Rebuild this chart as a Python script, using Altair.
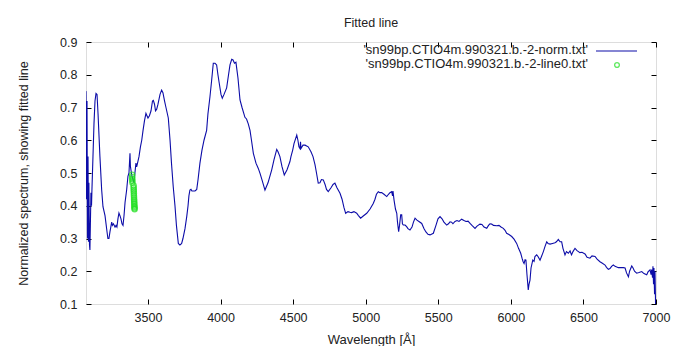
import altair as alt
import pandas as pd

# Normalized spectrum (wavelength in Angstrom, normalized flux)
wavelength = [3073, 3076, 3080, 3083, 3087, 3090, 3093, 3097, 3100, 3107, 3111, 3114, 3121, 3128, 3135, 3142,
              3149, 3156, 3169, 3181, 3190, 3204, 3218, 3224, 3231, 3238, 3250, 3255, 3262, 3273, 3280, 3286,
              3293, 3300, 3307, 3314, 3321, 3328, 3335, 3342, 3353, 3362, 3369, 3376, 3379, 3386, 3390, 3397,
              3404, 3410, 3417, 3422, 3428, 3438, 3448, 3457, 3466, 3476, 3486, 3493, 3500, 3510, 3521, 3531,
              3537, 3545, 3552, 3560, 3569, 3583, 3594, 3603, 3614, 3624, 3640, 3652, 3662, 3674, 3686, 3696,
              3709, 3720, 3732, 3741, 3755, 3767, 3776, 3782, 3789, 3796, 3803, 3812, 3824, 3836, 3845, 3858,
              3872, 3886, 3904, 3913, 3927, 3938, 3950, 3962, 3973, 3982, 3991, 4003, 4012, 4024, 4042, 4055,
              4065, 4077, 4086, 4096, 4106, 4120, 4134, 4148, 4168, 4179, 4191, 4203, 4213, 4226, 4244, 4260,
              4272, 4285, 4306, 4327, 4352, 4368, 4387, 4396, 4409, 4423, 4439, 4458, 4478, 4485, 4497, 4506,
              4525, 4533, 4540, 4547, 4551, 4554, 4568, 4582, 4604, 4623, 4637, 4651, 4661, 4673, 4685, 4695,
              4708, 4720, 4730, 4742, 4761, 4775, 4788, 4802, 4823, 4837, 4850, 4862, 4878, 4892, 4903, 4919,
              4938, 4950, 4965, 4981, 5007, 5030, 5052, 5064, 5074, 5087, 5098, 5110, 5126, 5145, 5157, 5167,
              5179, 5185, 5188, 5195, 5205, 5214, 5219, 5227, 5233, 5241, 5248, 5253, 5259, 5271, 5282, 5291,
              5305, 5319, 5329, 5340, 5353, 5367, 5386, 5402, 5415, 5429, 5443, 5466, 5484, 5498, 5512, 5526,
              5539, 5558, 5570, 5581, 5592, 5601, 5615, 5629, 5643, 5661, 5677, 5691, 5705, 5719, 5732, 5753,
              5767, 5787, 5801, 5815, 5834, 5846, 5856, 5868, 5880, 5903, 5918, 5932, 5948, 5960, 5971, 5987,
              6006, 6022, 6040, 6053, 6068, 6077, 6084, 6091, 6098, 6104, 6111, 6120, 6125, 6132, 6139, 6151,
              6160, 6166, 6178, 6187, 6201, 6211, 6224, 6235, 6247, 6256, 6270, 6287, 6304, 6314, 6327, 6339,
              6350, 6359, 6373, 6383, 6396, 6408, 6418, 6428, 6442, 6456, 6476, 6490, 6511, 6525, 6545, 6559,
              6580, 6594, 6614, 6628, 6649, 6659, 6672, 6683, 6694, 6706, 6718, 6741, 6759, 6775, 6787, 6797,
              6810, 6818, 6833, 6842, 6852, 6867, 6883, 6902, 6917, 6936, 6945, 6959, 6966, 6970, 6976, 6979,
              6983, 6986, 6990, 6993, 6997]
flux = [0.75, 0.42, 0.72, 0.30, 0.55, 0.29, 0.47, 0.28, 0.265, 0.44, 0.40, 0.45, 0.55, 0.65, 0.72, 0.743,
        0.74, 0.68, 0.55, 0.448, 0.397, 0.37, 0.32, 0.30, 0.30, 0.32, 0.35, 0.34, 0.345, 0.335, 0.34, 0.335,
        0.36, 0.378, 0.37, 0.36, 0.345, 0.34, 0.37, 0.41, 0.448, 0.49, 0.50, 0.56, 0.52, 0.50, 0.49, 0.48,
        0.47, 0.50, 0.53, 0.519, 0.53, 0.55, 0.58, 0.60, 0.63, 0.66, 0.682, 0.675, 0.668, 0.675, 0.69, 0.72,
        0.722, 0.71, 0.69, 0.695, 0.71, 0.74, 0.753, 0.745, 0.72, 0.70, 0.668, 0.60, 0.53, 0.458, 0.40, 0.34,
        0.285, 0.28, 0.285, 0.30, 0.33, 0.367, 0.40, 0.43, 0.448, 0.45, 0.445, 0.445, 0.445, 0.45, 0.48, 0.53,
        0.57, 0.60, 0.63, 0.68, 0.733, 0.78, 0.835, 0.835, 0.83, 0.80, 0.774, 0.74, 0.728, 0.74, 0.76, 0.80,
        0.83, 0.847, 0.845, 0.835, 0.838, 0.79, 0.723, 0.70, 0.67, 0.665, 0.65, 0.63, 0.60, 0.56, 0.53, 0.514,
        0.499, 0.48, 0.448, 0.47, 0.509, 0.54, 0.572, 0.565, 0.55, 0.52, 0.494, 0.51, 0.535, 0.55, 0.57, 0.59,
        0.616, 0.60, 0.58, 0.575, 0.595, 0.575, 0.585, 0.585, 0.58, 0.565, 0.55, 0.525, 0.50, 0.469, 0.47, 0.48,
        0.479, 0.465, 0.45, 0.443, 0.455, 0.465, 0.469, 0.455, 0.438, 0.42, 0.395, 0.377, 0.382, 0.38, 0.379, 0.382,
        0.377, 0.37, 0.362, 0.368, 0.377, 0.39, 0.407, 0.42, 0.435, 0.443, 0.44, 0.44, 0.435, 0.428, 0.435, 0.44,
        0.443, 0.43, 0.445, 0.418, 0.39, 0.377, 0.35, 0.321, 0.34, 0.372, 0.372, 0.345, 0.341, 0.341, 0.336, 0.33,
        0.326, 0.335, 0.35, 0.362, 0.356, 0.352, 0.346, 0.33, 0.32, 0.313, 0.311, 0.316, 0.34, 0.36, 0.367, 0.36,
        0.35, 0.341, 0.345, 0.351, 0.35, 0.345, 0.352, 0.355, 0.352, 0.359, 0.355, 0.352, 0.353, 0.346, 0.34, 0.331,
        0.338, 0.344, 0.343, 0.335, 0.331, 0.34, 0.345, 0.344, 0.34, 0.339, 0.34, 0.335, 0.331, 0.325, 0.316, 0.312,
        0.306, 0.298, 0.285, 0.27, 0.255, 0.24, 0.23, 0.224, 0.235, 0.234, 0.19, 0.143, 0.16, 0.173, 0.21, 0.234,
        0.23, 0.245, 0.25, 0.245, 0.234, 0.245, 0.26, 0.275, 0.29, 0.285, 0.283, 0.285, 0.287, 0.29, 0.297, 0.29,
        0.29, 0.27, 0.25, 0.26, 0.255, 0.262, 0.25, 0.26, 0.27, 0.263, 0.257, 0.258, 0.253, 0.243, 0.24, 0.247,
        0.245, 0.237, 0.229, 0.225, 0.219, 0.212, 0.206, 0.208, 0.215, 0.219, 0.215, 0.211, 0.211, 0.211, 0.21, 0.195,
        0.183, 0.20, 0.216, 0.21, 0.20, 0.194, 0.196, 0.199, 0.193, 0.189, 0.198, 0.204, 0.19, 0.205, 0.18, 0.215,
        0.16, 0.21, 0.13, 0.20, 0.10]

# Fitted line points (line0 file)
fit_wavelength = [3391, 3391, 3392, 3392, 3393, 3401, 3401, 3402, 3402, 3403, 3403, 3404, 3404, 3405,
                  3405, 3406, 3406, 3407, 3407, 3408]
fit_flux = [0.495, 0.488, 0.482, 0.476, 0.470, 0.462, 0.456, 0.450, 0.444, 0.438, 0.432, 0.426, 0.420, 0.415,
            0.410, 0.405, 0.400, 0.396, 0.392, 0.389]

series_names = ["'sn99bp.CTIO4m.990321.b.-2-norm.txt'", "'sn99bp.CTIO4m.990321.b.-2-line0.txt'"]
x_ticks = [3500, 4000, 4500, 5000, 5500, 6000, 6500, 7000]
y_ticks = [0.1, 0.2, 0.3, 0.4, 0.5, 0.6, 0.7, 0.8, 0.9]
x_domain = [3073, 7000]
y_domain = [0.1, 0.9]

FONT = "Liberation Sans"
BLUE = "#0c0ca8"
GREEN = "#22e022"
W, H = 570, 262

spec = pd.DataFrame({"w": wavelength, "f": flux})
fit = pd.DataFrame({"w": fit_wavelength, "f": fit_flux})

xs = alt.Scale(domain=x_domain, nice=False, zero=False)
ys = alt.Scale(domain=y_domain, nice=False, zero=False)

x_axis = alt.Axis(values=x_ticks, format="d", title="Wavelength [Å]", grid=True, gridColor="black",
                  gridOpacity=1, gridWidth=1, gridDash=[5, H - 10, 5, 50], ticks=False, domain=False,
                  labelFont=FONT, labelFontSize=12.5, labelColor="#222", labelPadding=7, labelOverlap=False,
                  titleFont=FONT, titleFontSize=13, titleFontWeight="normal", titleColor="#222",
                  titlePadding=10, labelFlush=False)
y_axis = alt.Axis(values=y_ticks, format=".1f", title="Normalized spectrum, showing fitted line",
                  grid=True, gridColor="black", gridOpacity=1, gridWidth=1, gridDash=[5, W - 10, 5, 50],
                  ticks=False, domain=False, labelFont=FONT, labelFontSize=12.5, labelColor="#222",
                  labelPadding=9, labelOverlap=False, labelSeparation=0, titleFont=FONT, titleFontSize=12.5,
                  titleFontWeight="normal", titleColor="#222", titlePadding=29, labelFlush=False)

line = alt.Chart(spec).mark_line(color=BLUE, strokeWidth=1.1, clip=True).encode(
    x=alt.X("w:Q", scale=xs, axis=x_axis),
    y=alt.Y("f:Q", scale=ys, axis=y_axis),
)
pts = alt.Chart(fit).mark_point(color=GREEN, size=26, strokeWidth=1.4, filled=False, shape="circle").encode(
    x=alt.X("w:Q", scale=xs, axis=x_axis),
    y=alt.Y("f:Q", scale=ys, axis=y_axis),
)

leg1 = pd.DataFrame({"label": [series_names[0]]})
leg2 = pd.DataFrame({"label": [series_names[1]]})
leg_text1 = alt.Chart(leg1).mark_text(align="right", baseline="middle", font=FONT, fontSize=13,
                                       color="#222").encode(
    x=alt.value(502), y=alt.value(8), text="label:N")
leg_text2 = alt.Chart(leg2).mark_text(align="right", baseline="middle", font=FONT, fontSize=13,
                                       color="#222").encode(
    x=alt.value(502), y=alt.value(22), text="label:N")
leg_line = alt.Chart(leg1).mark_rule(color=BLUE, strokeWidth=1.1).encode(
    x=alt.value(510), x2=alt.value(551), y=alt.value(9))
leg_pt = alt.Chart(leg2).mark_point(color=GREEN, size=22, strokeWidth=1.4, filled=False, shape="circle").encode(
    x=alt.value(531), y=alt.value(23))

chart = alt.layer(line, pts, leg_text1, leg_text2, leg_line, leg_pt).properties(
    width=W, height=H,
    title=alt.TitleParams("Fitted line", font=FONT, fontSize=12.5, fontWeight="normal", color="#222",
                          anchor="middle", offset=7),
    autosize=alt.AutoSizeParams(type="none"),
    padding={"left": 78, "top": 34, "right": 20, "bottom": 44},
).configure_view(stroke="black", strokeWidth=1).configure_axis(labelOverlap=False).configure(background="white")

chart.save("out.html", embed_options={"renderer": "svg", "actions": False})
